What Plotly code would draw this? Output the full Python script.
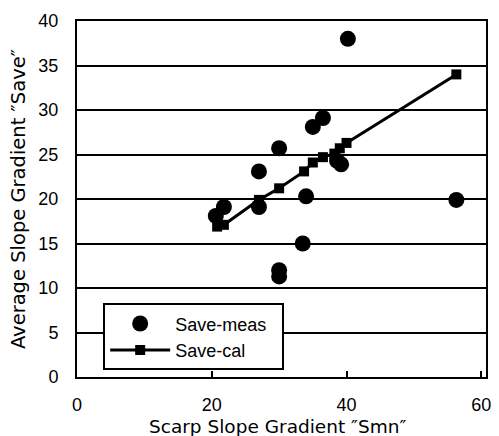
import plotly.graph_objects as go

# Measured values (Save-meas)
meas_smn = [40.2, 36.5, 35.0, 30.0, 27.0, 39.2, 38.6, 34.0, 56.3, 27.0, 21.8, 20.6, 33.5, 30.0, 30.0]
meas_save = [38.0, 29.1, 28.1, 25.7, 23.1, 23.9, 24.3, 20.3, 19.9, 19.1, 19.1, 18.1, 15.0, 12.0, 11.3]

# Calculated values (Save-cal)
cal_smn = [20.8, 21.8, 27.0, 30.0, 33.7, 35.0, 36.5, 38.2, 39.0, 40.0, 56.3]
cal_save = [16.9, 17.1, 19.9, 21.2, 23.1, 24.1, 24.7, 25.1, 25.7, 26.3, 34.0]

x_ticks = [0, 20, 40, 60]
y_ticks = [0, 5, 10, 15, 20, 25, 30, 35, 40]

x_title = "Scarp Slope Gradient ″Smn″"
y_title = "Average Slope Gradient ″Save″"

fig = go.Figure()
fig.add_trace(go.Scatter(
    x=meas_smn, y=meas_save, mode="markers", name="Save-meas\u00a0\u00a0",
    legendgroup="a",
    marker=dict(symbol="circle", size=16, color="black"),
))
fig.add_trace(go.Scatter(
    x=cal_smn, y=cal_save, mode="lines+markers", name="Save-cal",
    legendgroup="b",
    line=dict(color="black", width=3),
    marker=dict(symbol="square", size=10, color="black"),
))

font_family = "Liberation Sans, Arial, sans-serif"
title_family = "DejaVu Sans, sans-serif"
fig.update_layout(
    width=499, height=436,
    margin=dict(l=77, r=13, t=21, b=59, autoexpand=False),
    paper_bgcolor="white", plot_bgcolor="white",
    font=dict(family=font_family, size=18, color="black"),
    showlegend=True,
    legend=dict(
        x=0.064, y=0.207, xanchor="left", yanchor="top",
        bgcolor="white", bordercolor="black", borderwidth=2,
        font=dict(size=18), itemwidth=60, tracegroupgap=0,
    ),
    xaxis=dict(
        range=[0, 60.7], tickvals=x_ticks, ticktext=[str(v) for v in x_ticks],
        showgrid=False, zeroline=False, automargin=False,
        ticks="inside", ticklen=6, tickwidth=1.5, tickcolor="black",
        showline=True, linecolor="black", linewidth=2, mirror=True,
        ticklabelstandoff=10,
    ),
    yaxis=dict(
        range=[0, 40], tickvals=y_ticks, automargin=False,
        showgrid=True, gridcolor="black", gridwidth=1.5, zeroline=False,
        ticks="inside", ticklen=5, tickwidth=1.5, tickcolor="black",
        showline=True, linecolor="black", linewidth=2, mirror=True,
        ticklabelstandoff=13,
    ),
    annotations=[
        dict(text=x_title, xref="paper", yref="paper", x=0.49, y=-0.14,
             xanchor="center", yanchor="middle", showarrow=False,
             font=dict(size=18.5, family=title_family)),
        dict(text=y_title, xref="paper", yref="paper", x=-0.144, y=0.5,
             xanchor="center", yanchor="middle", showarrow=False, textangle=-90,
             font=dict(size=19.5, family=title_family)),
    ],
)

fig.write_html("out.html", config={"displayModeBar": False},
               post_script="document.body.style.margin='0';")
